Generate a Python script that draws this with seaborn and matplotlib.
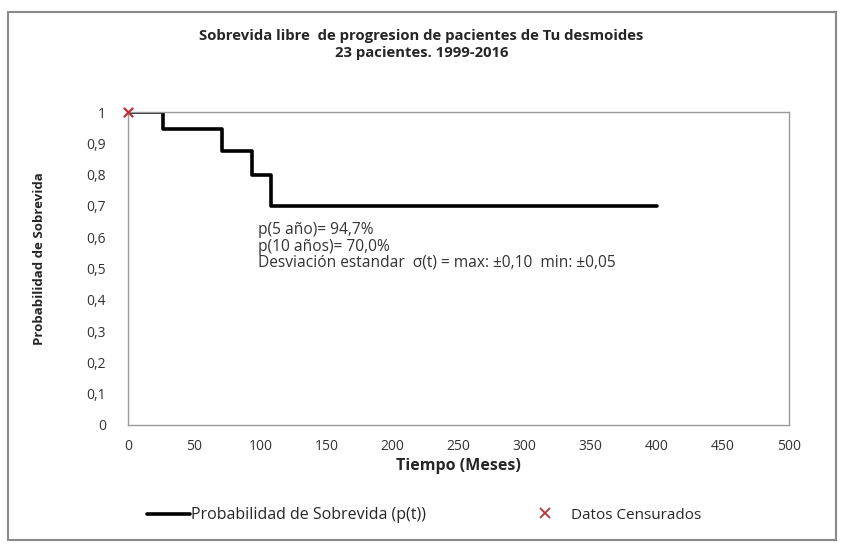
import matplotlib
matplotlib.use("Agg")
import matplotlib.pyplot as plt
import seaborn as sns
import pandas as pd
from matplotlib.lines import Line2D
from matplotlib.patches import Rectangle

# Data
tiempo = [0, 26, 71, 94, 108, 400]
supervivencia = [1.0, 0.947, 0.875, 0.80, 0.70, 0.70]
cens_tiempo = [0]
cens_prob = [1.0]
x_ticks = [0, 50, 100, 150, 200, 250, 300, 350, 400, 450, 500]
y_ticks = [0, 0.1, 0.2, 0.3, 0.4, 0.5, 0.6, 0.7, 0.8, 0.9, 1.0]
y_tick_labels = ["0", "0,1", "0,2", "0,3", "0,4", "0,5", "0,6", "0,7", "0,8", "0,9", "1"]

sns.set_style("white")
plt.rcParams['font.family'] = ['Open Sans', 'DejaVu Sans']

df = pd.DataFrame({"t": tiempo, "p": supervivencia})
dfc = pd.DataFrame({"t": cens_tiempo, "p": cens_prob})

fig = plt.figure(figsize=(8.43, 5.44), dpi=100)
ax = fig.add_axes([0.152, 0.219, 0.784, 0.575])

sns.lineplot(data=df, x="t", y="p", drawstyle="steps-post", color="black",
             linewidth=2.6, ax=ax, legend=False)
sns.scatterplot(data=dfc, x="t", y="p", marker="x", color="#b8323a", s=45,
                linewidth=1.6, ax=ax, legend=False, zorder=5, clip_on=False)

ax.set_xlim(0, 500)
ax.set_ylim(0, 1)
ax.set_xticks(x_ticks)
ax.set_xticklabels([str(v) for v in x_ticks], fontsize=10, color="#333333")
ax.set_yticks(y_ticks)
ax.set_yticklabels(y_tick_labels, fontsize=10, color="#333333")
ax.tick_params(axis="both", length=0, pad=10)
ax.tick_params(axis="y", pad=16)
for s in ax.spines.values():
    s.set_color("#9a9a9a")
    s.set_linewidth(1.0)

ax.set_xlabel("Tiempo (Meses)", fontsize=11.5, fontweight="bold", labelpad=3)
ax.set_ylabel("Probabilidad de Sobrevida", fontsize=9.5, fontweight="bold")
ax.yaxis.set_label_coords(-0.124, 0.53)

fig.text(0.5, 0.918, "Sobrevida libre  de progresion de pacientes de Tu desmoides\n23 pacientes. 1999-2016",
         ha="center", va="center", fontsize=10.7, fontweight="bold", linespacing=1.3)

ax.text(98, 0.648, "p(5 año)= 94,7%\np(10 años)= 70,0%\nDesviación estandar  σ(t) = max: ±0,10  min: ±0,05",
        fontsize=11.2, color="#333333", va="top", ha="left", linespacing=1.03)

h_line = [Line2D([0], [0], color="black", linewidth=2.6)]
h_cens = [Line2D([0], [0], color="#b8323a", marker="x", linestyle="none",
                 markersize=7, markeredgewidth=1.3)]
leg1 = fig.legend(h_line, ["Probabilidad de Sobrevida (p(t))"],
                  loc="center left", bbox_to_anchor=(0.157, 0.053), frameon=False,
                  fontsize=11.5, handlelength=2.7, handletextpad=0.05)
leg2 = fig.legend(h_cens, ["Datos Censurados"],
                  loc="center left", bbox_to_anchor=(0.607, 0.053), frameon=False,
                  fontsize=11, handlelength=2.6, handletextpad=0.4)

fig.patches.append(Rectangle((0.0095, 0.007), 0.982, 0.971, transform=fig.transFigure,
                             fill=False, edgecolor="#8a8a8a", linewidth=1.5))

fig.savefig("out.png", dpi=100)
